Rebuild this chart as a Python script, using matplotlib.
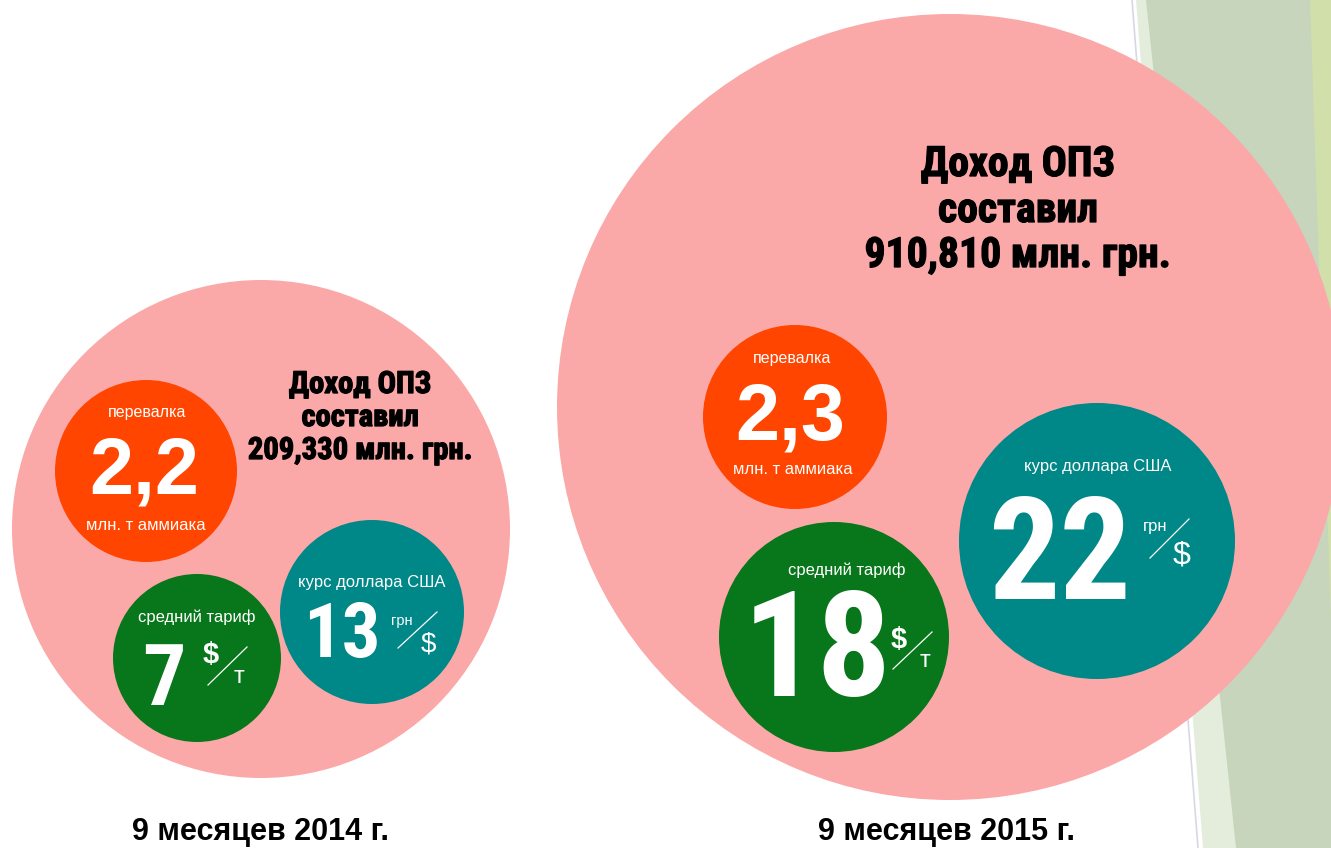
import matplotlib.pyplot as plt
from matplotlib.patches import Circle, Polygon
from matplotlib import font_manager
import matplotlib.patheffects as pe

# Data read from the infographic
periods = ['9 месяцев 2014 г.', '9 месяцев 2015 г.']
income = ['209,330', '910,810']        # млн. грн.
transshipment = ['2,2', '2,3']         # млн. т аммиака
tariff = ['7', '18']                   # $/т
usd_rate = ['13', '22']                # грн/$

available = {f.name for f in font_manager.fontManager.ttflist}


def pick(*names):
    for n in names:
        if n in available:
            return n
    return 'DejaVu Sans'


NARROW = pick('Liberation Sans Narrow', 'Roboto Condensed', 'DejaVu Sans')
SANS = pick('Liberation Sans', 'Arimo', 'DejaVu Sans')

PINK = '#fba8a8'
ORANGE = '#ff4500'
GREEN = '#08761a'
TEAL = '#008787'

fig = plt.figure(figsize=(13.31, 8.48), dpi=100)
ax = fig.add_axes([0, 0, 1, 1])
ax.set_xlim(0, 1331)
ax.set_ylim(848, 0)
ax.axis('off')

# background decoration on the right
ax.add_patch(Polygon([(1140, 0), (1331, 0), (1331, 848), (1233, 848)],
                     closed=True, color='#c6d5bb', lw=0, zorder=0))
ax.add_patch(Polygon([(1136, 0), (1146, 0), (1236, 848), (1203, 848)],
                     closed=True, color='#e4eddc', lw=0, zorder=0))
ax.plot([1132, 1198], [0, 848], color='#d8d8e4', lw=1.2, zorder=0)
ax.add_patch(Polygon([(1310, 0), (1331, 0), (1331, 620)],
                     closed=True, color='#d1e0aa', lw=0, zorder=0))

heavy = [pe.withStroke(linewidth=0.9, foreground='black')]


def circle(x, y, r, color):
    ax.add_patch(Circle((x, y), r, color=color, lw=0, zorder=1))


def txt(x, y, s, size, color='white', font=SANS, weight='normal', va='center', fx=None):
    ax.text(x, y, s, fontsize=size, color=color, family=font, weight=weight,
            ha='center', va=va, zorder=3, path_effects=fx)


def slash(x0, y0, x1, y1):
    ax.plot([x0, x1], [y0, y1], color='white', lw=0.9, zorder=3)


# ---- 2014 ----
circle(261, 529, 249, PINK)
circle(146, 471, 91, ORANGE)
circle(197, 658, 84, GREEN)
circle(372, 612, 92, TEAL)

txt(360, 393, 'Доход ОПЗ', 22, 'black', NARROW, 'bold', 'baseline', heavy)
txt(360, 426, 'составил', 22, 'black', NARROW, 'bold', 'baseline', heavy)
txt(360, 459, income[0] + ' млн. грн.', 22, 'black', NARROW, 'bold', 'baseline', heavy)

txt(147, 413, 'перевалка', 11.5)
txt(144, 493, transshipment[0], 57, font=SANS, weight='bold', va='baseline')
txt(146, 525, 'млн. т аммиака', 12)

txt(197, 617, 'средний тариф', 12)
txt(164, 705, tariff[0], 62, font=NARROW, weight='bold', va='baseline')
txt(211, 655, '$', 21, weight='bold')
slash(208, 685, 247, 647)
txt(239, 677, 'т', 17)

txt(372, 582, 'курс доллара США', 12)
txt(342, 657, usd_rate[0], 55, font=NARROW, weight='bold', va='baseline')
txt(402, 621, 'грн', 10.5)
slash(398, 648, 437, 612)
txt(428, 645, '$', 20)

txt(260, 840, periods[0], 22, 'black', SANS, 'bold', 'baseline')

# ---- 2015 ----
circle(950, 407, 393, PINK)
circle(795, 417, 92, ORANGE)
circle(834, 637, 115, GREEN)
circle(1097, 541, 138, TEAL)

txt(1018, 176, 'Доход ОПЗ', 30, 'black', NARROW, 'bold', 'baseline', heavy)
txt(1018, 222, 'составил', 30, 'black', NARROW, 'bold', 'baseline', heavy)
txt(1018, 267, income[1] + ' млн. грн.', 30, 'black', NARROW, 'bold', 'baseline', heavy)

txt(792, 359, 'перевалка', 11.5)
txt(790, 440, transshipment[1], 57, font=SANS, weight='bold', va='baseline')
txt(793, 469, 'млн. т аммиака', 12)

txt(847, 570, 'средний тариф', 12)
txt(817, 696, tariff[1], 106, font=NARROW, weight='bold', va='baseline')
txt(899, 640, '$', 21, weight='bold')
slash(893, 669, 932, 632)
txt(925, 661, 'т', 17)

txt(1098, 466, 'курс доллара США', 12)
txt(1060, 599, usd_rate[1], 102, font=NARROW, weight='bold', va='baseline')
txt(1155, 527, 'грн', 12)
slash(1150, 558, 1189, 519)
txt(1182, 556, '$', 23)

txt(947, 840, periods[1], 22, 'black', SANS, 'bold', 'baseline')

fig.savefig('out.png', dpi=100)
